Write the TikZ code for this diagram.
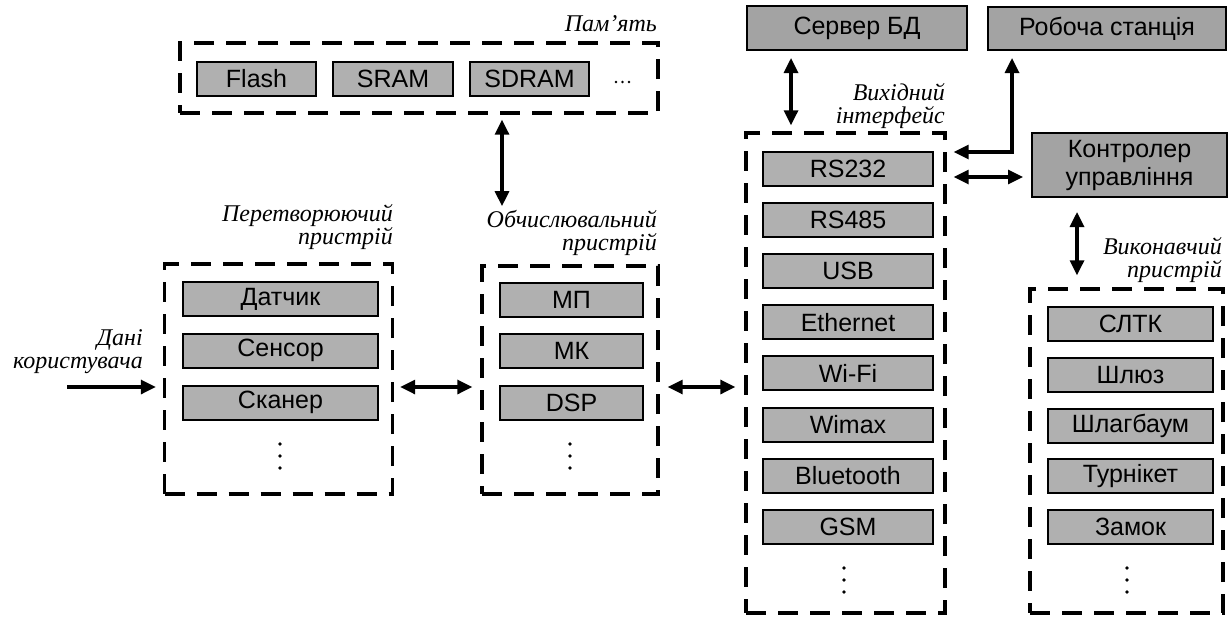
\documentclass[tikz,border=0pt]{standalone}
\usepackage{fontspec}
\setmainfont{Liberation Serif}
\setsansfont{Liberation Sans}
\usetikzlibrary{arrows.meta}
\begin{document}
\begin{tikzpicture}[x=1pt,y=-1pt,
  unit/.style={draw=black, line width=2pt, fill=gray!62, inner sep=0pt,
    minimum height=34pt, font=\sffamily\fontsize{25}{27}\selectfont},
  topunit/.style={unit, fill=gray!72},
  grp/.style={draw=black, line width=3.4pt, dash pattern=on 20pt off 12pt, inner sep=0pt},
  lbl/.style={font=\itshape\fontsize{24}{23}\selectfont, align=right, inner sep=0pt},
  dotc/.style={circle, fill=black, inner sep=0pt, minimum size=3.6pt},
  tip/.tip={Triangle[length=15pt,width=14pt]},
  conn/.style={line width=3.2pt, -tip},
  dconn/.style={line width=3.2pt, tip-tip}
]
\useasboundingbox (0,0) rectangle (1230,621);

% ---- memory
\node[grp, minimum width=478pt, minimum height=70pt] (mem) at (419,78) {};
\node[lbl, anchor=east] (memlbl) at (657,24) {Пам’ять};
\node[unit, minimum width=119pt] (flash) at (256.5,78.5) {Flash};
\node[unit, minimum width=120pt] (sram) at (393,78.5) {SRAM};
\node[unit, minimum width=119pt] (sdram) at (529.5,78.5) {SDRAM};
\foreach \x [count=\i] in {616,622.5,629} \node[dotc, minimum size=2.8pt] (md\i) at (\x,82) {};

% ---- top devices
\node[topunit, minimum width=220pt, minimum height=44pt] (srv) at (857,28) {Сервер БД};
\node[topunit, minimum width=238pt, minimum height=43pt] (ws) at (1107,28.5) {Робоча станція};
\node[topunit, minimum width=195pt, minimum height=64pt, align=center,
  font=\sffamily\fontsize{25}{28}\selectfont] (ctrl) at (1129.5,165) {Контролер\\управління};

% ---- output interface
\node[grp, minimum width=199pt, minimum height=480pt] (out) at (845.5,373) {};
\node[lbl, anchor=east] (outlbl) at (945,106) {Вихідний\\інтерфейс};
\foreach \n/\t/\y in {o1/RS232/168.5, o2/RS485/219.7, o3/USB/270.9, o4/Ethernet/322.1,
  o5/Wi-Fi/373.3, o6/Wimax/424.5, o7/Bluetooth/475.7, o8/GSM/526.9}
  \node[unit, minimum width=170pt] (\n) at (848,\y) {\t};
\foreach \y [count=\i] in {568,580,592} \node[dotc] (od\i) at (844,\y) {};

% ---- executive
\node[grp, minimum width=193pt, minimum height=324pt] (exe) at (1126.5,451) {};
\node[lbl, anchor=east] (exelbl) at (1222,260) {Виконавчий\\пристрій};
\foreach \n/\t/\y in {e1/СЛТК/323.5, e2/Шлюз/374.7, e3/Шлагбаум/425.9, e4/Турнікет/476.1, e5/Замок/527}
  \node[unit, minimum width=165pt] (\n) at (1130.5,\y) {\t};
\foreach \y [count=\i] in {568,580,592} \node[dotc] (ed\i) at (1127,\y) {};

% ---- converter
\node[grp, minimum width=228pt, minimum height=230pt] (conv) at (278.5,379) {};
\node[lbl, anchor=east] (convlbl) at (393,227) {Перетворюючий\\пристрій};
\foreach \n/\t/\y in {c1/Датчик/299, c2/Сенсор/350.5, c3/Сканер/402.5}
  \node[unit, minimum width=195pt] (\n) at (280.5,\y) {\t};
\foreach \y [count=\i] in {444,456,468} \node[dotc] (cd\i) at (280,\y) {};

% ---- computing
\node[grp, minimum width=176pt, minimum height=228pt] (comp) at (570,380) {};
\node[lbl, anchor=east] (complbl) at (657,233) {Обчислювальний\\пристрій};
\foreach \n/\t/\y in {p1/МП/299.5, p2/МК/350.5, p3/DSP/402.5}
  \node[unit, minimum width=143pt] (\n) at (571.5,\y) {\t};
\foreach \y [count=\i] in {444,456,468} \node[dotc] (pd\i) at (570,\y) {};

% ---- user data
\node[lbl, anchor=east] (user) at (143,352) {Дані\\користувача};
\coordinate (uin) at (67,387);

% ---- connectors (yshift is in page direction: negative = down)
\draw[conn] (uin) -- ([xshift=-7pt]conv.west |- uin);
\draw[dconn] ([xshift=6pt]conv.east |- uin) -- ([xshift=-8pt]comp.west |- uin);
\draw[dconn] ([xshift=8pt]comp.east |- uin) -- ([xshift=-9pt]out.west |- uin);
\coordinate (mc) at (502,0);
\draw[dconn] ([yshift=-5pt]mem.south -| mc) -- ([yshift=4pt]complbl.north -| mc);
\coordinate (sc) at (791,0);
\draw[dconn] ([yshift=-7pt]srv.south -| sc) -- ([yshift=6pt]out.north -| sc);
\coordinate (wy) at (0,152);
\coordinate (wx) at (1012,0);
\draw[dconn] ([xshift=7pt]out.east |- wy) -| ([yshift=-7pt]ws.south -| wx);
\coordinate (cy) at (0,177);
\draw[dconn] ([xshift=7pt]out.east |- cy) -- ([xshift=-8pt]ctrl.west |- cy);
\coordinate (ex) at (1077,0);
\draw[dconn] ([yshift=-14pt]ctrl.south -| ex) -- ([yshift=12pt]exe.north -| ex);
\end{tikzpicture}
\end{document}
